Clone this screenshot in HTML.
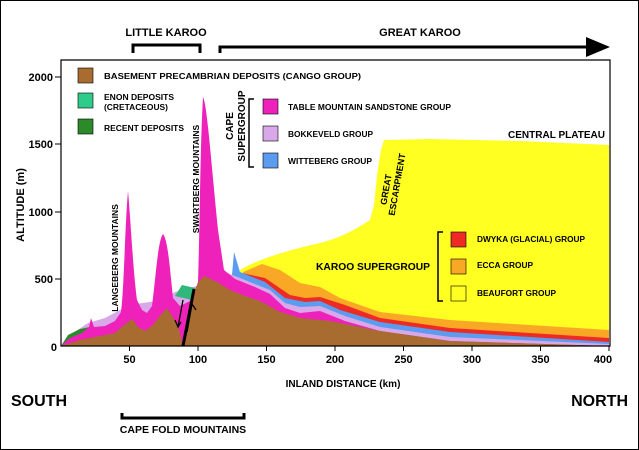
<!DOCTYPE html>
<html><head><meta charset="utf-8"><style>
html,body{margin:0;padding:0;background:#fff;}
svg{display:block;font-family:"Liberation Sans",sans-serif;font-weight:bold;}
</style></head><body>
<svg width="639" height="450" viewBox="0 0 639 450" xmlns="http://www.w3.org/2000/svg">
<rect x="0.5" y="0.5" width="638" height="449" fill="#fff" stroke="#000" stroke-width="1"/>
<path d="M240,270 C260,258 290,250 320,243 C340,238 355,230 370,220 L374,205 L377,175 L381,150 L384,140 L430,139 L520,141 L609,145 L609,346 L240,346 Z" fill="#ffff22"/>
<path d="M243,272 L262,264 L280,270 L300,283 L320,287 L340,298 L380,312 L450,320 L609,330 L609,346 L243,346 Z" fill="#f9a825"/>
<path d="M242,273 L265,278 L290,295 L305,298 L320,297 L345,305 L380,318 L450,328 L609,338 L609,346 L242,346 Z" fill="#ee2a24"/>
<path d="M232,275 L234,252 L237,262 L240,272 L265,282 L285,298 L305,302 L320,301 L340,310 L380,322 L450,332 L609,342 L609,346 L232,346 Z" fill="#5b9cf0"/>
<path d="M61,346 L70,335 L88,323 L105,318 L120,310 L135,304 L150,302 L160,300 L175,292 L190,288 L200,285 L225,272 L250,282 L270,290 L285,303 L300,307 L320,306 L345,316 L380,327 L450,337 L609,344 L609,346 Z" fill="#d8a8e8"/>
<path d="M175,296 L182,285 L195,288 L192,300 Z" fill="#2fb87a"/>
<path d="M61,346 L68,335 L80,329 L90,327 L94,346 Z" fill="#2c8a2a"/>
<path d="M61,346 L70,338 L82,333 L89,327 L91,318 L94,327 L105,326 L115,321 L121,312 C124,290 125,225 128,191 C131,225 133,270 137,300 L142,310 L147,313 L152,306 C156,275 158,240 163,234 C168,240 170,270 173,298 L180,306 L192,300 L198,282 C200,220 200,150 203,97 C207,105 210,150 218,230 L224,270 L235,279 L255,287 L270,294 L285,308 L300,313 L320,311 L345,321 L380,331 L450,341 L609,346 Z" fill="#ee22bb"/>
<path d="M61,346 L80,340 L100,336 L115,333 L123,326 L132,319 L138,327 L145,331 L152,326 L160,316 L167,308 L172,316 L178,326 L183,346 Z" fill="#a86b30"/>
<path d="M183,346 L190,312 L194,292 L198,283 L204,276 L215,281 L230,290 L245,296 L260,301 L280,312 L300,318 L330,321 L380,331 L450,341 L609,346 Z" fill="#a86b30"/>
<line x1="183" y1="346" x2="194" y2="289" stroke="#000" stroke-width="3"/>
<path d="M178,327 L183,300 M175,320 L178,327 L181,322" stroke="#000" stroke-width="1.3" fill="none"/>
<path d="M187,332 L192,304 L196,310" stroke="#000" stroke-width="1.3" fill="none"/>
<path d="M61,346 L61,60 L610,60 L610,346 Z" fill="none" stroke="#000" stroke-width="1.2"/>
<g stroke="#000" stroke-width="1">
<line x1="55" y1="77" x2="61" y2="77"/><line x1="55" y1="144" x2="61" y2="144"/><line x1="55" y1="212" x2="61" y2="212"/><line x1="55" y1="279" x2="61" y2="279"/>
<line x1="129.5" y1="346" x2="129.5" y2="351"/><line x1="198" y1="346" x2="198" y2="351"/><line x1="266.5" y1="346" x2="266.5" y2="351"/><line x1="335" y1="346" x2="335" y2="351"/><line x1="403.5" y1="346" x2="403.5" y2="351"/><line x1="472" y1="346" x2="472" y2="351"/><line x1="540.5" y1="346" x2="540.5" y2="351"/><line x1="609" y1="346" x2="609" y2="351"/>
</g>
<g font-size="11" text-anchor="end">
<text x="53" y="81">2000</text><text x="53" y="148">1500</text><text x="53" y="216">1000</text><text x="53" y="283">500</text><text x="57" y="351">0</text>
</g>
<g font-size="11" text-anchor="middle">
<text x="129.5" y="363">50</text><text x="198" y="363">100</text><text x="266.5" y="363">150</text><text x="335" y="363">200</text><text x="403.5" y="363">250</text><text x="472" y="363">300</text><text x="540.5" y="363">350</text><text x="603" y="363">400</text>
</g>
<text x="343" y="387" font-size="10" text-anchor="middle">INLAND DISTANCE (km)</text>
<text transform="translate(24,205) rotate(-90)" font-size="11" text-anchor="middle">ALTITUDE (m)</text>
<rect x="78" y="68" width="15" height="15" fill="#a86b30" stroke="#000" stroke-width="0.6"/>
<rect x="78" y="93" width="15" height="15" fill="#2fcb8a" stroke="#000" stroke-width="0.6"/>
<rect x="78" y="119" width="15" height="15" fill="#2c8a2a" stroke="#000" stroke-width="0.6"/>
<g font-size="8">
<text x="104" y="79" textLength="257" lengthAdjust="spacingAndGlyphs">BASEMENT PRECAMBRIAN DEPOSITS (CANGO GROUP)</text>
<text x="104" y="100" textLength="70" lengthAdjust="spacingAndGlyphs">ENON DEPOSITS</text>
<text x="104" y="110" textLength="64" lengthAdjust="spacingAndGlyphs">(CRETACEOUS)</text>
<text x="104" y="131" textLength="80" lengthAdjust="spacingAndGlyphs">RECENT DEPOSITS</text>
<text x="288" y="110" textLength="163" lengthAdjust="spacingAndGlyphs">TABLE MOUNTAIN SANDSTONE GROUP</text>
<text x="288" y="137" textLength="85" lengthAdjust="spacingAndGlyphs">BOKKEVELD GROUP</text>
<text x="288" y="164" textLength="84" lengthAdjust="spacingAndGlyphs">WITTEBERG GROUP</text>
<text x="477" y="242" textLength="108" lengthAdjust="spacingAndGlyphs">DWYKA (GLACIAL) GROUP</text>
<text x="477" y="268" textLength="56" lengthAdjust="spacingAndGlyphs">ECCA GROUP</text>
<text x="477" y="296" textLength="79" lengthAdjust="spacingAndGlyphs">BEAUFORT GROUP</text>
</g>
<rect x="263" y="99" width="15" height="15" fill="#ee22bb" stroke="#000" stroke-width="0.6"/>
<rect x="263" y="126" width="15" height="15" fill="#d8a8e8" stroke="#000" stroke-width="0.6"/>
<rect x="263" y="153" width="15" height="15" fill="#5b9cf0" stroke="#000" stroke-width="0.6"/>
<path d="M254,99 L249,99 L249,167 L254,167" stroke="#000" stroke-width="1.5" fill="none"/>
<text transform="translate(233,126) rotate(-90)" font-size="10" text-anchor="middle">CAPE</text>
<text transform="translate(245,126) rotate(-90)" font-size="10" text-anchor="middle">SUPERGROUP</text>
<rect x="451" y="232" width="15" height="15" fill="#ee2a24" stroke="#000" stroke-width="0.6"/>
<rect x="451" y="259" width="15" height="15" fill="#f9a825" stroke="#000" stroke-width="0.6"/>
<rect x="451" y="286" width="15" height="15" fill="#ffff22" stroke="#000" stroke-width="0.6"/>
<path d="M443,232 L438,232 L438,301 L443,301" stroke="#000" stroke-width="1.5" fill="none"/>
<text x="316" y="270" font-size="10.5" textLength="114" lengthAdjust="spacingAndGlyphs">KAROO SUPERGROUP</text>
<text x="508" y="138" font-size="10.5" textLength="97" lengthAdjust="spacingAndGlyphs">CENTRAL PLATEAU</text>
<text transform="translate(389,190) rotate(-80)" font-size="9" text-anchor="middle">GREAT</text>
<text transform="translate(400,185) rotate(-80)" font-size="9" text-anchor="middle">ESCARPMENT</text>
<text transform="translate(118,258) rotate(-90)" font-size="8.5" text-anchor="middle">LANGEBERG MOUNTAINS</text>
<text transform="translate(199,179) rotate(-90)" font-size="8.5" text-anchor="middle">SWARTBERG MOUNTAINS</text>
<path d="M133,53 L133,45 L200,45 L200,53" stroke="#000" stroke-width="3" fill="none"/>
<text x="166" y="36" font-size="11" text-anchor="middle">LITTLE KAROO</text>
<path d="M220,53 L220,47 L592,47" stroke="#000" stroke-width="3" fill="none"/>
<path d="M586,37 L610,47 L586,57 Z" fill="#000"/>
<text x="420" y="36" font-size="11" text-anchor="middle">GREAT KAROO</text>
<text x="11" y="406" font-size="16">SOUTH</text>
<text x="628" y="406" font-size="16" text-anchor="end">NORTH</text>
<path d="M122,413 L122,418 L244,418 L244,413" stroke="#000" stroke-width="3" fill="none"/>
<text x="183" y="433" font-size="10.5" text-anchor="middle">CAPE FOLD MOUNTAINS</text>
</svg>
</body></html>
